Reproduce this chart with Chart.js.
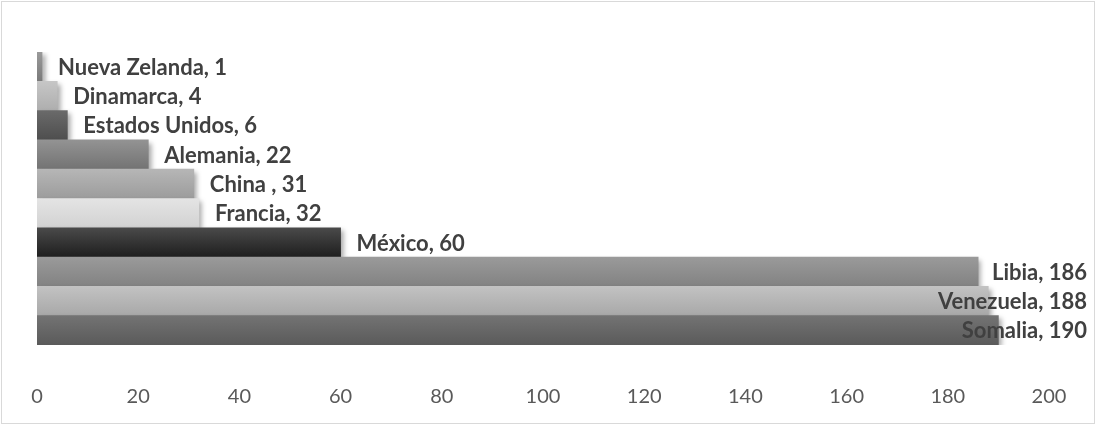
<!DOCTYPE html>
<html>
<head>
<meta charset="utf-8">
<script src="https://cdn.jsdelivr.net/npm/chart.js@4.4.1/dist/chart.umd.min.js"></script>
<style>
  html, body { margin: 0; padding: 0; background: #fff; }
  #wrap { width: 1097px; height: 425px; }
</style>
</head>
<body>
<div id="wrap"><canvas id="countryChart" width="1097" height="425"></canvas></div>
<script>
const countries = ['Nueva Zelanda', 'Dinamarca', 'Estados Unidos', 'Alemania', 'China ', 'Francia', 'México', 'Libia', 'Venezuela', 'Somalia'];
const values = [1, 4, 6, 22, 31, 32, 60, 186, 188, 190];
const xTicks = [0, 20, 40, 60, 80, 100, 120, 140, 160, 180, 200];

// grey shades per bar: top of the bar, bottom of the bar
const topShades = ['#9a9a9a', '#c6c6c6', '#6a6a6a', '#939393', '#b6b6b6', '#e4e4e4', '#4a4a4a', '#9a9a9a', '#c2c2c2', '#737373'];
const bottomShades = ['#7a7a7a', '#aeaeae', '#4e4e4e', '#737373', '#9c9c9c', '#d2d2d2', '#1e1e1e', '#828282', '#a8a8a8', '#5a5a5a'];

function barGradient(context) {
  const chart = context.chart;
  const yScale = chart.scales.y;
  const i = context.dataIndex;
  if (!yScale || i === undefined) return bottomShades[0];
  const center = yScale.getPixelForValue(i);
  const half = Math.abs(yScale.getPixelForValue(1) - yScale.getPixelForValue(0)) / 2;
  if (!isFinite(center) || !isFinite(half) || half === 0) return bottomShades[i];
  const g = chart.ctx.createLinearGradient(0, center - half, 0, center + half);
  g.addColorStop(0, topShades[i]);
  g.addColorStop(1, bottomShades[i]);
  return g;
}

const frame = {
  id: 'frame',
  beforeDraw(chart) {
    const c = chart.ctx;
    c.save();
    c.strokeStyle = '#d9d9d9';
    c.lineWidth = 1;
    c.strokeRect(1.5, 1.5, chart.width - 4, chart.height - 3);
    c.restore();
  }
};

const barShadow = {
  id: 'barShadow',
  beforeDatasetsDraw(chart) {
    const c = chart.ctx;
    c.save();
    c.shadowColor = 'rgba(0,0,0,0.35)';
    c.shadowBlur = 5;
    c.shadowOffsetX = 3;
    c.shadowOffsetY = 3;
  },
  afterDatasetsDraw(chart) {
    chart.ctx.restore();
  }
};

// "Country, value" next to each bar, pushed back inside when it would run past the edge
const barLabels = {
  id: 'barLabels',
  afterDatasetsDraw(chart) {
    const c = chart.ctx;
    const meta = chart.getDatasetMeta(0);
    const limit = chart.width - 10;
    c.save();
    c.font = 'bold 22px Lato';
    c.fillStyle = '#404040';
    c.textBaseline = 'middle';
    c.textAlign = 'left';
    meta.data.forEach((bar, i) => {
      const text = countries[i] + ', ' + values[i];
      const w = c.measureText(text).width;
      let x = bar.x + 16;
      if (x + w > limit) x = limit - w;
      c.fillText(text, x, bar.y + 1);
    });
    c.restore();
  }
};

new Chart(document.getElementById('countryChart'), {
  type: 'bar',
  data: {
    labels: countries,
    datasets: [{
      data: values,
      backgroundColor: barGradient,
      borderWidth: 0,
      categoryPercentage: 1,
      barPercentage: 1
    }]
  },
  options: {
    indexAxis: 'y',
    responsive: false,
    animation: false,
    layout: { padding: { left: 37, right: 48, top: 52, bottom: 16 } },
    plugins: { legend: { display: false }, tooltip: { enabled: false } },
    scales: {
      x: {
        min: 0,
        max: 200,
        afterBuildTicks(axis) { axis.ticks = xTicks.map(v => ({ value: v })); },
        afterFit(axis) {
          axis.height = 64;
          axis.paddingLeft = 0;
          axis.paddingRight = 0;
        },
        grid: { display: false, drawTicks: false },
        border: { display: false },
        ticks: { color: '#595959', font: { family: 'Lato', size: 20 }, padding: 40, maxRotation: 0 }
      },
      y: { display: false }
    }
  },
  plugins: [frame, barShadow, barLabels]
});
</script>
</body>
</html>
